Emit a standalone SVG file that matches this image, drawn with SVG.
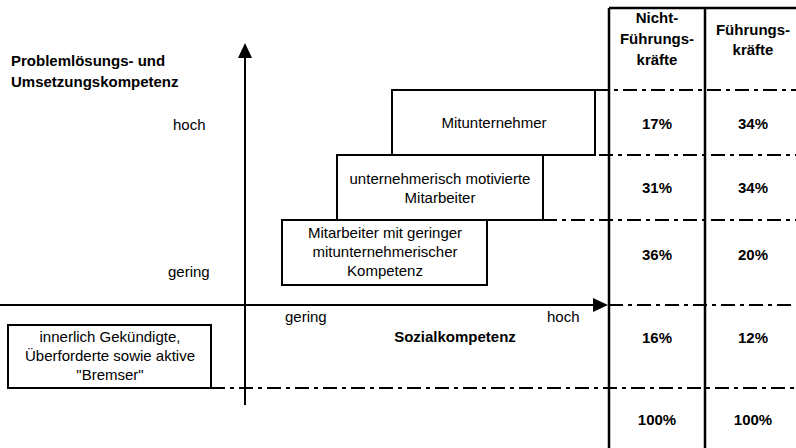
<svg xmlns="http://www.w3.org/2000/svg" width="796" height="448" viewBox="0 0 796 448">
  <style>
    text { font-family: "Liberation Sans", Arial, sans-serif; font-size: 15px; fill: #000; }
    .b { font-weight: bold; }
    .c { text-anchor: middle; }
    .box { fill: #fff; stroke: #000; stroke-width: 2; }
    .dd { fill: none; stroke: #000; stroke-width: 2; stroke-dasharray: 14 5 4 5; }
    .ax { fill: none; stroke: #000; stroke-width: 2; }
    .tbl { fill: none; stroke: #000; stroke-width: 2.5; }
  </style>
  <rect width="796" height="448" fill="#fff"/>

  <!-- dash-dot row separators and the two axes -->
  <g id="connectors">
    <line class="dd" x1="595" y1="90" x2="796" y2="90"/>
    <line class="dd" x1="543" y1="155" x2="796" y2="155"/>
    <line class="dd" x1="487" y1="220" x2="796" y2="220"/>
    <line class="dd" x1="609" y1="305" x2="796" y2="305"/>
    <line class="dd" x1="211" y1="388" x2="796" y2="388"/>
    <line class="ax" x1="245" y1="56" x2="245" y2="405"/>
    <polygon points="245,43 238,58 252,58" fill="#000"/>
    <line class="ax" x1="0" y1="305" x2="595" y2="305"/>
    <polygon points="608,305 593,298 593,312" fill="#000"/>
  </g>

  <!-- share table -->
  <g id="table">
    <line class="tbl" x1="609" y1="8" x2="796" y2="8" stroke-width="1.5"/>
    <line class="tbl" x1="609" y1="8" x2="609" y2="448"/>
    <line class="tbl" x1="705" y1="8" x2="705" y2="448"/>
    <text class="b c" x="657" y="23">Nicht-</text>
    <text class="b c" x="657" y="44">Führungs-</text>
    <text class="b c" x="657" y="65">kräfte</text>
    <text class="b c" x="753" y="35">Führungs-</text>
    <text class="b c" x="753" y="55">kräfte</text>
    <text class="b c" x="657" y="129">17%</text>
    <text class="b c" x="753" y="129">34%</text>
    <text class="b c" x="657" y="193">31%</text>
    <text class="b c" x="753" y="193">34%</text>
    <text class="b c" x="657" y="260">36%</text>
    <text class="b c" x="753" y="260">20%</text>
    <text class="b c" x="657" y="343">16%</text>
    <text class="b c" x="753" y="343">12%</text>
    <text class="b c" x="657" y="425">100%</text>
    <text class="b c" x="753" y="425">100%</text>
  </g>

  <!-- axis labels -->
  <g id="labels">
    <text class="b" x="11" y="66">Problemlösungs- und</text>
    <text class="b" x="11" y="87">Umsetzungskompetenz</text>
    <text x="173" y="130">hoch</text>
    <text x="168" y="277">gering</text>
    <text x="285" y="322">gering</text>
    <text x="547" y="322">hoch</text>
    <text class="b c" x="455" y="342">Sozialkompetenz</text>
  </g>

  <g id="mitunternehmer">
    <rect class="box" x="392" y="90" width="203" height="65"/>
    <text class="c" x="494" y="128">Mitunternehmer</text>
  </g>

  <g id="motivierte">
    <rect class="box" x="337" y="155" width="206" height="65"/>
    <text class="c" x="440" y="184">unternehmerisch motivierte</text>
    <text class="c" x="440" y="203">Mitarbeiter</text>
  </g>

  <g id="geringe-kompetenz">
    <rect class="box" x="282" y="220" width="205" height="65"/>
    <text class="c" x="385" y="238">Mitarbeiter mit geringer</text>
    <text class="c" x="385" y="257">mitunternehmerischer</text>
    <text class="c" x="385" y="276">Kompetenz</text>
  </g>

  <g id="bremser">
    <rect class="box" x="8" y="325" width="203" height="63"/>
    <text class="c" x="110" y="342">innerlich Gekündigte,</text>
    <text class="c" x="110" y="361">Überforderte sowie aktive</text>
    <text class="c" x="110" y="380">"Bremser"</text>
  </g>
</svg>
